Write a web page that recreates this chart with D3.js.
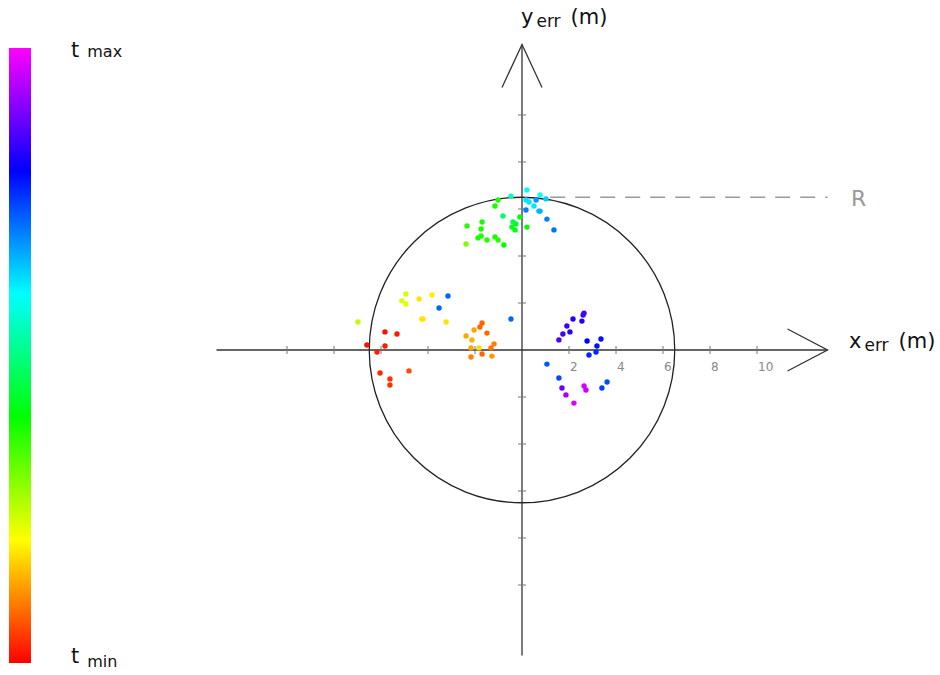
<!DOCTYPE html>
<html><head><meta charset="utf-8">
<script src="https://cdn.jsdelivr.net/npm/d3@7"></script>
<style>html,body{margin:0;padding:0;background:#fff;}svg{display:block;}</style>
</head><body>
<svg id="chart" width="940" height="675"></svg>
<script>
// ---- data (metres, time fraction 0 = t_min, 1 = t_max) ----
const errX = [
  -5.83,-5.32,-6.60,-5.83,-6.17,-6.04,-5.62,-5.62,-4.81,
  -2.38,-2.04,-1.79,-1.70,-1.49,-2.13,-2.17,-1.83,-1.19,-1.32,-2.17,-1.70,-1.28,
  -4.94,-5.11,-4.94,-4.38,-3.83,-4.26,-4.21,-3.23,-6.98,
  -3.15,-3.53,-0.47,
  -1.02,-1.15,-0.81,-0.09,-1.70,-2.34,-0.38,-0.26,-0.43,-0.30,0.21,-1.74,-1.74,-1.87,-1.49,-1.15,-1.02,-2.38,-0.77,
  0.21,-0.47,0.77,0.17,0.30,0.60,1.02,0.17,0.51,0.72,0.77,1.06,1.36,
  2.64,2.60,2.55,2.17,1.91,2.04,1.74,1.57,2.77,3.36,3.19,3.15,2.85,
  1.06,1.57,3.62,3.40,1.70,1.87,2.21,2.64,2.72
];
const errY = [
  0.77,0.68,0.21,0.17,-0.09,-0.98,-1.23,-1.49,-0.89,
  0.60,0.85,0.98,1.15,0.72,0.43,0.09,0.09,0.26,0.09,-0.30,-0.17,-0.26,
  2.38,2.09,1.96,2.17,2.34,1.32,1.32,1.19,1.19,
  2.30,1.79,1.32,
  6.38,6.13,5.70,5.66,5.45,5.28,5.45,5.36,5.23,5.11,5.23,5.15,4.85,4.77,4.68,4.81,4.68,4.51,4.47,
  6.81,6.55,6.60,6.38,6.30,6.38,6.43,5.96,6.13,5.91,5.91,5.57,5.11,
  1.57,1.49,1.23,1.32,1.02,0.77,0.68,0.43,0.38,0.47,0.17,-0.09,-0.21,
  -0.60,-1.19,-1.36,-1.62,-1.62,-1.91,-2.26,-1.53,-1.70
];
const time = [
  0.01,0.02,0.01,0.02,0.02,0.03,0.04,0.04,0.06,
  0.13,0.13,0.08,0.08,0.08,0.14,0.13,0.17,0.10,0.09,0.10,0.08,0.12,
  0.23,0.23,0.22,0.18,0.19,0.18,0.18,0.18,0.25,
  0.72,0.72,0.72,
  0.38,0.38,0.48,0.42,0.38,0.37,0.45,0.43,0.42,0.42,0.40,0.38,0.38,0.38,0.37,0.38,0.37,0.30,0.40,
  0.60,0.55,0.60,0.62,0.62,0.68,0.64,0.70,0.62,0.66,0.66,0.70,0.71,
  0.85,0.85,0.82,0.83,0.85,0.83,0.85,0.86,0.80,0.79,0.79,0.77,0.77,
  0.73,0.74,0.74,0.75,0.88,0.93,0.97,0.97,0.96
];
const radiusR = 6.5;
const axisDomain = [-13, 13];
const tickValues = [-10,-8,-6,-4,-2,2,4,6,8,10];
const xTickLabels = ["2","4","6","8","10"];
const xTickLabelValues = [2,4,6,8,10];
const colorbarLabels = ["max","min"];

// ---- drawing ----
const svg = d3.select("#chart");
const x = d3.scaleLinear().domain(axisDomain).range([216.5, 827.5]);
const y = d3.scaleLinear().domain(axisDomain).range([655.5, 44.5]);
const hue = d3.scaleLinear().domain([0, 1]).range([0, 300]);
const colorOf = t => d3.hsl(hue(t), 1, 0.5).toString();

// colorbar
const defs = svg.append("defs");
const grad = defs.append("linearGradient").attr("id", "tgrad")
  .attr("x1", 0).attr("y1", 1).attr("x2", 0).attr("y2", 0);
d3.range(0, 1.0001, 0.05).forEach(o => grad.append("stop").attr("offset", o).attr("stop-color", colorOf(o)));
const cb = d3.scaleLinear().domain([0, 1]).range([663, 48]);
svg.append("rect").attr("x", 9).attr("y", cb(1)).attr("width", 22).attr("height", cb(0) - cb(1))
  .attr("fill", "url(#tgrad)");
const tLab = svg.append("g").attr("font-family", "DejaVu Sans, sans-serif").attr("fill", "#111");
[[1, 57, 57], [0, 663, 667]].forEach(([v, by, sy], i) => {
  const t = tLab.append("text").attr("x", 71).attr("y", by);
  t.append("tspan").attr("font-size", 21).text("t");
  t.append("tspan").attr("font-size", 16).attr("dx", 8).attr("dy", sy - by).text(colorbarLabels[i]);
});

// circle R
svg.append("circle").attr("cx", x(0)).attr("cy", y(0)).attr("r", x(radiusR) - x(0))
  .attr("fill", "none").attr("stroke", "#222").attr("stroke-width", 1.3);

// dashed R line
svg.append("line").attr("x1", x(1.2)).attr("x2", x(13)).attr("y1", y(radiusR)).attr("y2", y(radiusR))
  .attr("stroke", "#999").attr("stroke-width", 1.3).attr("stroke-dasharray", "15,10");
svg.append("text").attr("x", 851).attr("y", y(radiusR) + 9).attr("font-family", "DejaVu Sans, sans-serif")
  .attr("font-size", 22).attr("fill", "#999").text("R");

// axes lines
const axG = svg.append("g").attr("stroke", "#333").attr("stroke-width", 1.3).attr("fill", "none");
axG.append("line").attr("x1", x(-13)).attr("x2", x(13)).attr("y1", y(0)).attr("y2", y(0));
axG.append("line").attr("x1", x(0)).attr("x2", x(0)).attr("y1", y(-13)).attr("y2", y(13));
// arrowheads
axG.append("path").attr("d", `M${x(13) - 40},${y(0) - 21}L${x(13)},${y(0)}L${x(13) - 40},${y(0) + 21}`);
axG.append("path").attr("d", `M${x(0) - 20},${y(13) + 43}L${x(0)},${y(13)}L${x(0) + 20},${y(13) + 43}`);

// ticks
const tickG = svg.append("g").attr("stroke", "#777").attr("stroke-width", 1);
tickG.selectAll(".xt").data(tickValues).join("line").attr("class", "xt")
  .attr("x1", d => x(d)).attr("x2", d => x(d)).attr("y1", y(0) - 4).attr("y2", y(0) + 4);
tickG.selectAll(".yt").data(tickValues).join("line").attr("class", "yt")
  .attr("y1", d => y(d)).attr("y2", d => y(d)).attr("x1", x(0) - 4).attr("x2", x(0) + 4);
svg.append("g").selectAll("text").data(xTickLabelValues).join("text")
  .attr("x", d => x(d) + 1).attr("y", y(0) + 21).attr("font-family", "DejaVu Sans, sans-serif")
  .attr("font-size", 12).attr("fill", "#888").text((d, i) => xTickLabels[i]);

// axis titles
function axisTitle(px, py, letter) {
  const t = svg.append("text").attr("x", px).attr("y", py).attr("font-family", "DejaVu Sans, sans-serif").attr("fill", "#111");
  t.append("tspan").attr("font-size", 21).text(letter);
  t.append("tspan").attr("font-size", 17).attr("dx", 3).attr("dy", 3).text("err");
  t.append("tspan").attr("font-size", 21).attr("dx", 10).attr("dy", -3).text("(m)");
}
axisTitle(521, 24, "y");
axisTitle(849, 348, "x");

// points
const idx = d3.range(errX.length);
svg.append("g").selectAll("circle").data(idx).join("circle")
  .attr("cx", i => x(errX[i])).attr("cy", i => y(errY[i])).attr("r", 2.7)
  .attr("fill", i => colorOf(time[i]));
</script>
</body></html>
